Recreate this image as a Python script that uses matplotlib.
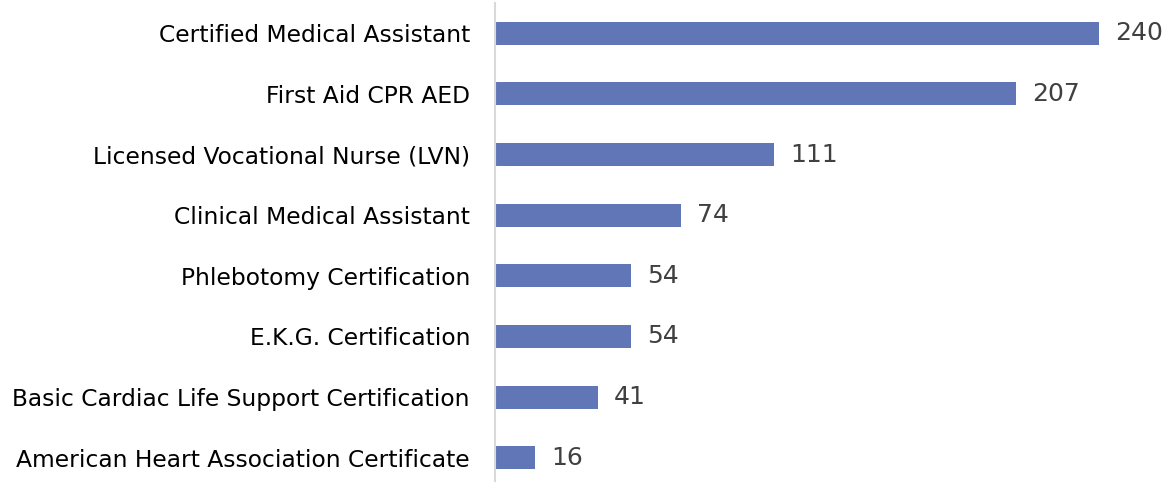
import matplotlib.pyplot as plt

# Data (top to bottom)
categories = [
    'Certified Medical Assistant',
    'First Aid CPR AED',
    'Licensed Vocational Nurse (LVN)',
    'Clinical Medical Assistant',
    'Phlebotomy Certification',
    'E.K.G. Certification',
    'Basic Cardiac Life Support Certification',
    'American Heart Association Certificate',
]
counts = [240, 207, 111, 74, 54, 54, 41, 16]

plt.rcParams['font.family'] = ['DejaVu Sans']

fig = plt.figure(figsize=(11.68, 4.82), dpi=100)
ax = fig.add_axes([495 / 1168, 0, 1 - 495 / 1168, 1 - 3 / 482])

pos = list(range(len(categories)))
ax.barh(pos, counts, height=0.38, color='#6076b6')

for y, v in zip(pos, counts):
    ax.annotate(f'{v}', (v, y), xytext=(11.5, 0), textcoords='offset points',
                va='center', ha='left', fontsize=18, color='#404040')

ax.set_yticks(pos)
ax.set_yticklabels(categories, fontsize=16.8, color='#000000')
ax.set_ylim(7.4, -0.5)
ax.set_xlim(0, 267.5)
ax.set_xticks([])

for s in ['top', 'right', 'bottom']:
    ax.spines[s].set_visible(False)
ax.spines['left'].set_color('#d9d9d9')
ax.spines['left'].set_linewidth(1.5)
ax.tick_params(axis='y', length=0, pad=18)

fig.savefig('out.png', dpi=100)
